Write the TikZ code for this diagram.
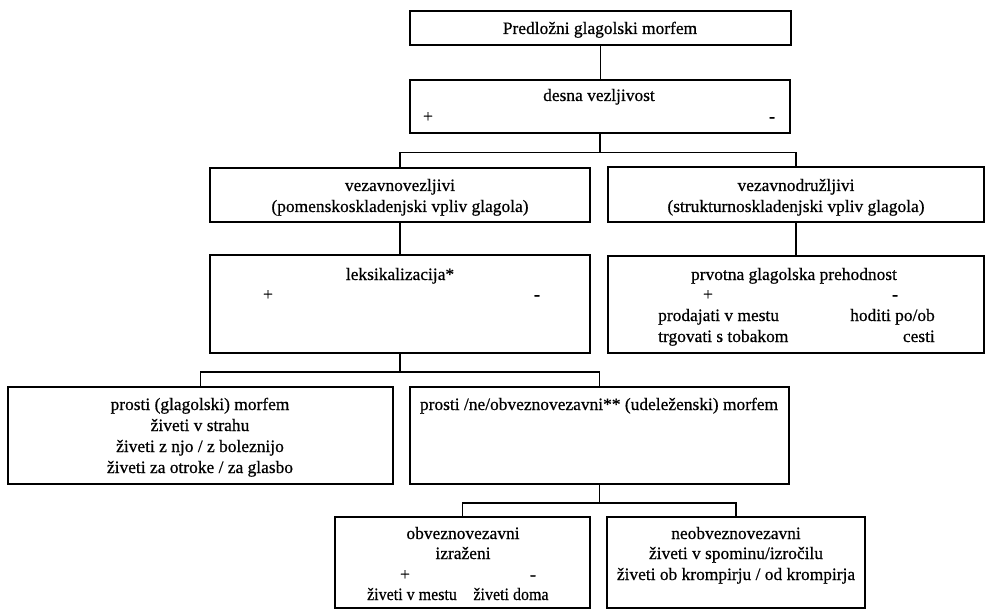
\documentclass[tikz,border=0pt]{standalone}
\usepackage{fontspec}
\setmainfont[FakeBold=0.6]{Liberation Serif}
\newfontfamily\narrowserif[FakeBold=0.6, FakeStretch=0.92]{Liberation Serif}
\tikzset{
  box/.style={draw, rectangle, line width=1.5pt, inner sep=0pt},
  wire/.style={line width=1.5pt},
  lbl/.style={anchor=base, inner sep=0pt},
  lblw/.style={anchor=base west, inner sep=0pt},
  lble/.style={anchor=base east, inner sep=0pt},
  tight/.style={font=\narrowserif\fontsize{17.4}{21}\selectfont}
}
\begin{document}
\begin{tikzpicture}[x=1pt, y=-1pt, font=\fontsize{17.4}{21}\selectfont]
\useasboundingbox (0,0) rectangle (985,612);

% boxes of the tree
\node[box, minimum width=381, minimum height=34] (top)    at (600.5,28)  {};
\node[box, minimum width=380, minimum height=53] (desna)  at (600,106.5) {};
\node[box, minimum width=380, minimum height=54] (vezn)   at (400,195)   {};
\node[box, minimum width=376, minimum height=55] (vezd)   at (796,194.5) {};
\node[box, minimum width=380, minimum height=98] (leks)   at (400,304)   {};
\node[box, minimum width=376, minimum height=97] (prvot)  at (796,304.5) {};
\node[box, minimum width=385, minimum height=97] (prostg) at (200.5,435.5) {};
\node[box, minimum width=379, minimum height=97] (prostn) at (599.5,435.5) {};
\node[box, minimum width=255, minimum height=91] (obv)    at (462.5,562.5) {};
\node[box, minimum width=258, minimum height=91] (neobv)  at (736,562.5)   {};

% connectors
\draw[wire] (top.south) -- (top.south |- desna.north);
\draw[wire] (desna.south) -- ++(0,19) coordinate (j1);
\draw[wire] (vezn.north) |- (j1) -| (vezd.north);
\draw[wire] (vezn.south) -- (leks.north);
\draw[wire] (vezd.south) -- (prvot.north);
\draw[wire] (leks.south) -- ++(0,18) coordinate (j2);
\draw[wire] (prostg.north) |- (j2) -| (prostn.north);
\draw[wire] (prostn.south) -- ++(0,18) coordinate (j3);
\draw[wire] (obv.north) |- (j3) -| (neobv.north);

% labels
\node[lbl] (t1) at (600,34) {Predložni glagolski morfem};

\node[lbl] (t2) at (599,101) {desna vezljivost};
\node[lbl] (t2p) at (428,122) {+};
\node[lbl] (t2m) at (772,122) {-};

\node[lbl] (t3a) at (400,191) {vezavnovezljivi};
\node[lbl] (t3b) at (400,212) {(pomenskoskladenjski vpliv glagola)};

\node[lbl] (t4a) at (796,191) {vezavnodružljivi};
\node[lbl] (t4b) at (796,212) {(strukturnoskladenjski vpliv glagola)};

\node[lbl] (t5) at (400,280) {leksikalizacija*};
\node[lbl] (t5p) at (268,300) {+};
\node[lbl] (t5m) at (537,300) {-};

\node[lbl] (t6) at (794,280) {prvotna glagolska prehodnost};
\node[lbl] (t6p) at (708,300) {+};
\node[lbl] (t6m) at (895,300) {-};
\node[lblw] (t6a) at (658,321) {prodajati v mestu};
\node[lblw] (t6b) at (658,342) {trgovati s tobakom};
\node[lble] (t6c) at (935,321) {hoditi po/ob};
\node[lble] (t6d) at (935,342) {cesti};

\node[lbl] (t7a) at (200,410) {prosti (glagolski) morfem};
\node[lbl] (t7b) at (200,431) {živeti v strahu};
\node[lbl] (t7c) at (200,452) {živeti z njo / z boleznijo};
\node[lbl] (t7d) at (200,473) {živeti za otroke / za glasbo};

\node[lbl] (t8) at (599,410) {prosti /ne/obveznovezavni** (udeleženski) morfem};

\node[lbl] (t9a) at (463,539) {obveznovezavni};
\node[lbl] (t9b) at (463,559) {izraženi};
\node[lbl] (t9p) at (405,580) {+};
\node[lbl] (t9m) at (533,580) {-};
\node[lbl, tight] (t9c) at (412,600) {živeti v mestu};
\node[lbl, tight] (t9d) at (511,600) {živeti doma};

\node[lbl] (t10a) at (736,539) {neobveznovezavni};
\node[lbl] (t10b) at (736,559) {živeti v spominu/izročilu};
\node[lbl] (t10c) at (736,580) {živeti ob krompirju / od krompirja};
\end{tikzpicture}
\end{document}
